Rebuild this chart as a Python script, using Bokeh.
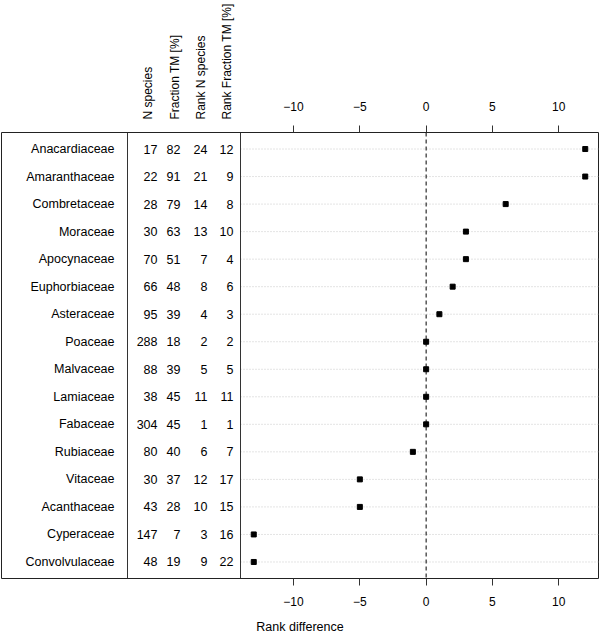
from bokeh.plotting import figure
from bokeh.models import Range1d, LinearAxis, FixedTicker, Span, ColumnDataSource
from bokeh.core.properties import value
from bokeh.embed import file_html
from bokeh.resources import INLINE

# ---------------- data ----------------
families = ["Anacardiaceae", "Amaranthaceae", "Combretaceae", "Moraceae", "Apocynaceae",
            "Euphorbiaceae", "Asteraceae", "Poaceae", "Malvaceae", "Lamiaceae", "Fabaceae",
            "Rubiaceae", "Vitaceae", "Acanthaceae", "Cyperaceae", "Convolvulaceae"]
n_species = [17, 22, 28, 30, 70, 66, 95, 288, 88, 38, 304, 80, 30, 43, 147, 48]
fraction_tm = [82, 91, 79, 63, 51, 48, 39, 18, 39, 45, 45, 40, 37, 28, 7, 19]
rank_n_species = [24, 21, 14, 13, 7, 8, 4, 2, 5, 11, 1, 6, 12, 10, 3, 9]
rank_fraction_tm = [12, 9, 8, 10, 4, 6, 3, 2, 5, 11, 1, 7, 17, 15, 16, 22]
rank_difference = [12, 12, 6, 3, 3, 2, 1, 0, 0, 0, 0, -1, -5, -5, -13, -13]
column_headers = ["N species", "Fraction TM [%]", "Rank N species", "Rank Fraction TM [%]"]
tick_values = [-10, -5, 0, 5, 10]
tick_labels = ["\u221210", "\u22125", "0", "5", "10"]
x_label = "Rank difference"

# ---------------- layout ----------------
FONT = "Liberation Sans"
W, H = 600, 636
FRAME_L, FRAME_R = 1, 598          # canvas px
FRAME_T, FRAME_B = 131, 578        # canvas px
X_MIN_PLOT, X_MAX = -14, 13
PLOT_LEFT = 240                    # canvas px of plot-region left border
PPU = (FRAME_R - PLOT_LEFT) / (X_MAX - X_MIN_PLOT)
X_LEFT = X_MIN_PLOT - (PLOT_LEFT - FRAME_L) / PPU
N = len(families)
PAD = 0.6

# table column anchors (canvas px)
NAME_RIGHT = 114
COL_RIGHT = [157, 180, 207, 233]
HEADER_CENTER = [147, 174, 200, 226]
SEP_X = 127


def fx(px):
    """canvas pixel -> x data coordinate"""
    return X_LEFT + (px - FRAME_L) / PPU


rows = list(range(N))
src = ColumnDataSource(dict(
    row=rows,
    family=families,
    n_str=[str(v) for v in n_species],
    f_str=[str(v) for v in fraction_tm],
    rn_str=[str(v) for v in rank_n_species],
    rf_str=[str(v) for v in rank_fraction_tm],
    diff=rank_difference,
))

p = figure(width=W, height=H, output_backend="svg", toolbar_location=None,
           x_range=Range1d(X_LEFT, X_MAX), y_range=Range1d(N - 1 + PAD, -PAD),
           x_axis_location=None, y_axis_location=None,
           min_border_left=FRAME_L, min_border_right=W - FRAME_R,
           min_border_top=FRAME_T, min_border_bottom=H - FRAME_B)
p.extra_x_ranges = {"px": Range1d(FRAME_L, FRAME_R)}
p.grid.visible = False
p.outline_line_color = "#222222"
p.outline_line_width = 1
p.background_fill_color = "white"
p.border_fill_color = "white"

# dotted grid lines in plot region
p.segment(x0=X_MIN_PLOT, x1=X_MAX, y0="row", y1="row", source=src,
          line_color="#c8c8c8", line_dash="1 2", line_width=1)

# separators
for loc in (fx(SEP_X), X_MIN_PLOT):
    p.add_layout(Span(location=loc, dimension="height", line_color="#333333", line_width=1))

# zero line
p.add_layout(Span(location=0, dimension="height", line_color="black",
                  line_dash="4 3", line_width=1))

# points
p.scatter(x="diff", y="row", source=src, marker="square", size=5,
          fill_color="black", line_color="black")

# table text
common = dict(source=src, text_font=value(FONT), text_font_size="12.5px",
              text_baseline="middle", text_align="right", text_color="black")
p.text(x=fx(NAME_RIGHT), y="row", text="family", **common)
for cx, col in zip(COL_RIGHT, ["n_str", "f_str", "rn_str", "rf_str"]):
    p.text(x=fx(cx), y="row", text=col, **common)

# axes
for loc in ("above", "below"):
    ax = LinearAxis(ticker=FixedTicker(ticks=tick_values),
                    major_label_overrides={v: l for v, l in zip(tick_values, tick_labels)},
                    bounds=(X_MIN_PLOT, X_MAX),
                    axis_line_color=None, major_tick_in=0, major_tick_out=7,
                    minor_tick_line_color=None, major_tick_line_color="#333333",
                    major_label_text_font=FONT, major_label_text_font_size="12px",
                    major_label_text_color="black",
                    major_label_standoff=15 if loc == "above" else 11)
    if loc == "below":
        ax.axis_label = x_label
        ax.axis_label_text_font = FONT
        ax.axis_label_text_font_style = "normal"
        ax.axis_label_text_font_size = "12.5px"
        ax.axis_label_text_color = "black"
        ax.axis_label_standoff = 11
    p.add_layout(ax, loc)

# rotated column headers as a tick-label-only axis above the numeric one
hdr = LinearAxis(x_range_name="px", ticker=FixedTicker(ticks=HEADER_CENTER),
                 major_label_overrides={v: t for v, t in zip(HEADER_CENTER, column_headers)},
                 major_label_orientation="vertical",
                 axis_line_color=None, major_tick_line_color=None, minor_tick_line_color=None,
                 major_label_text_font=FONT, major_label_text_font_size="12px",
                 major_label_text_color="black", major_label_standoff=-27)
p.add_layout(hdr, "above")

open("out.html", "w").write(file_html(p, INLINE))
